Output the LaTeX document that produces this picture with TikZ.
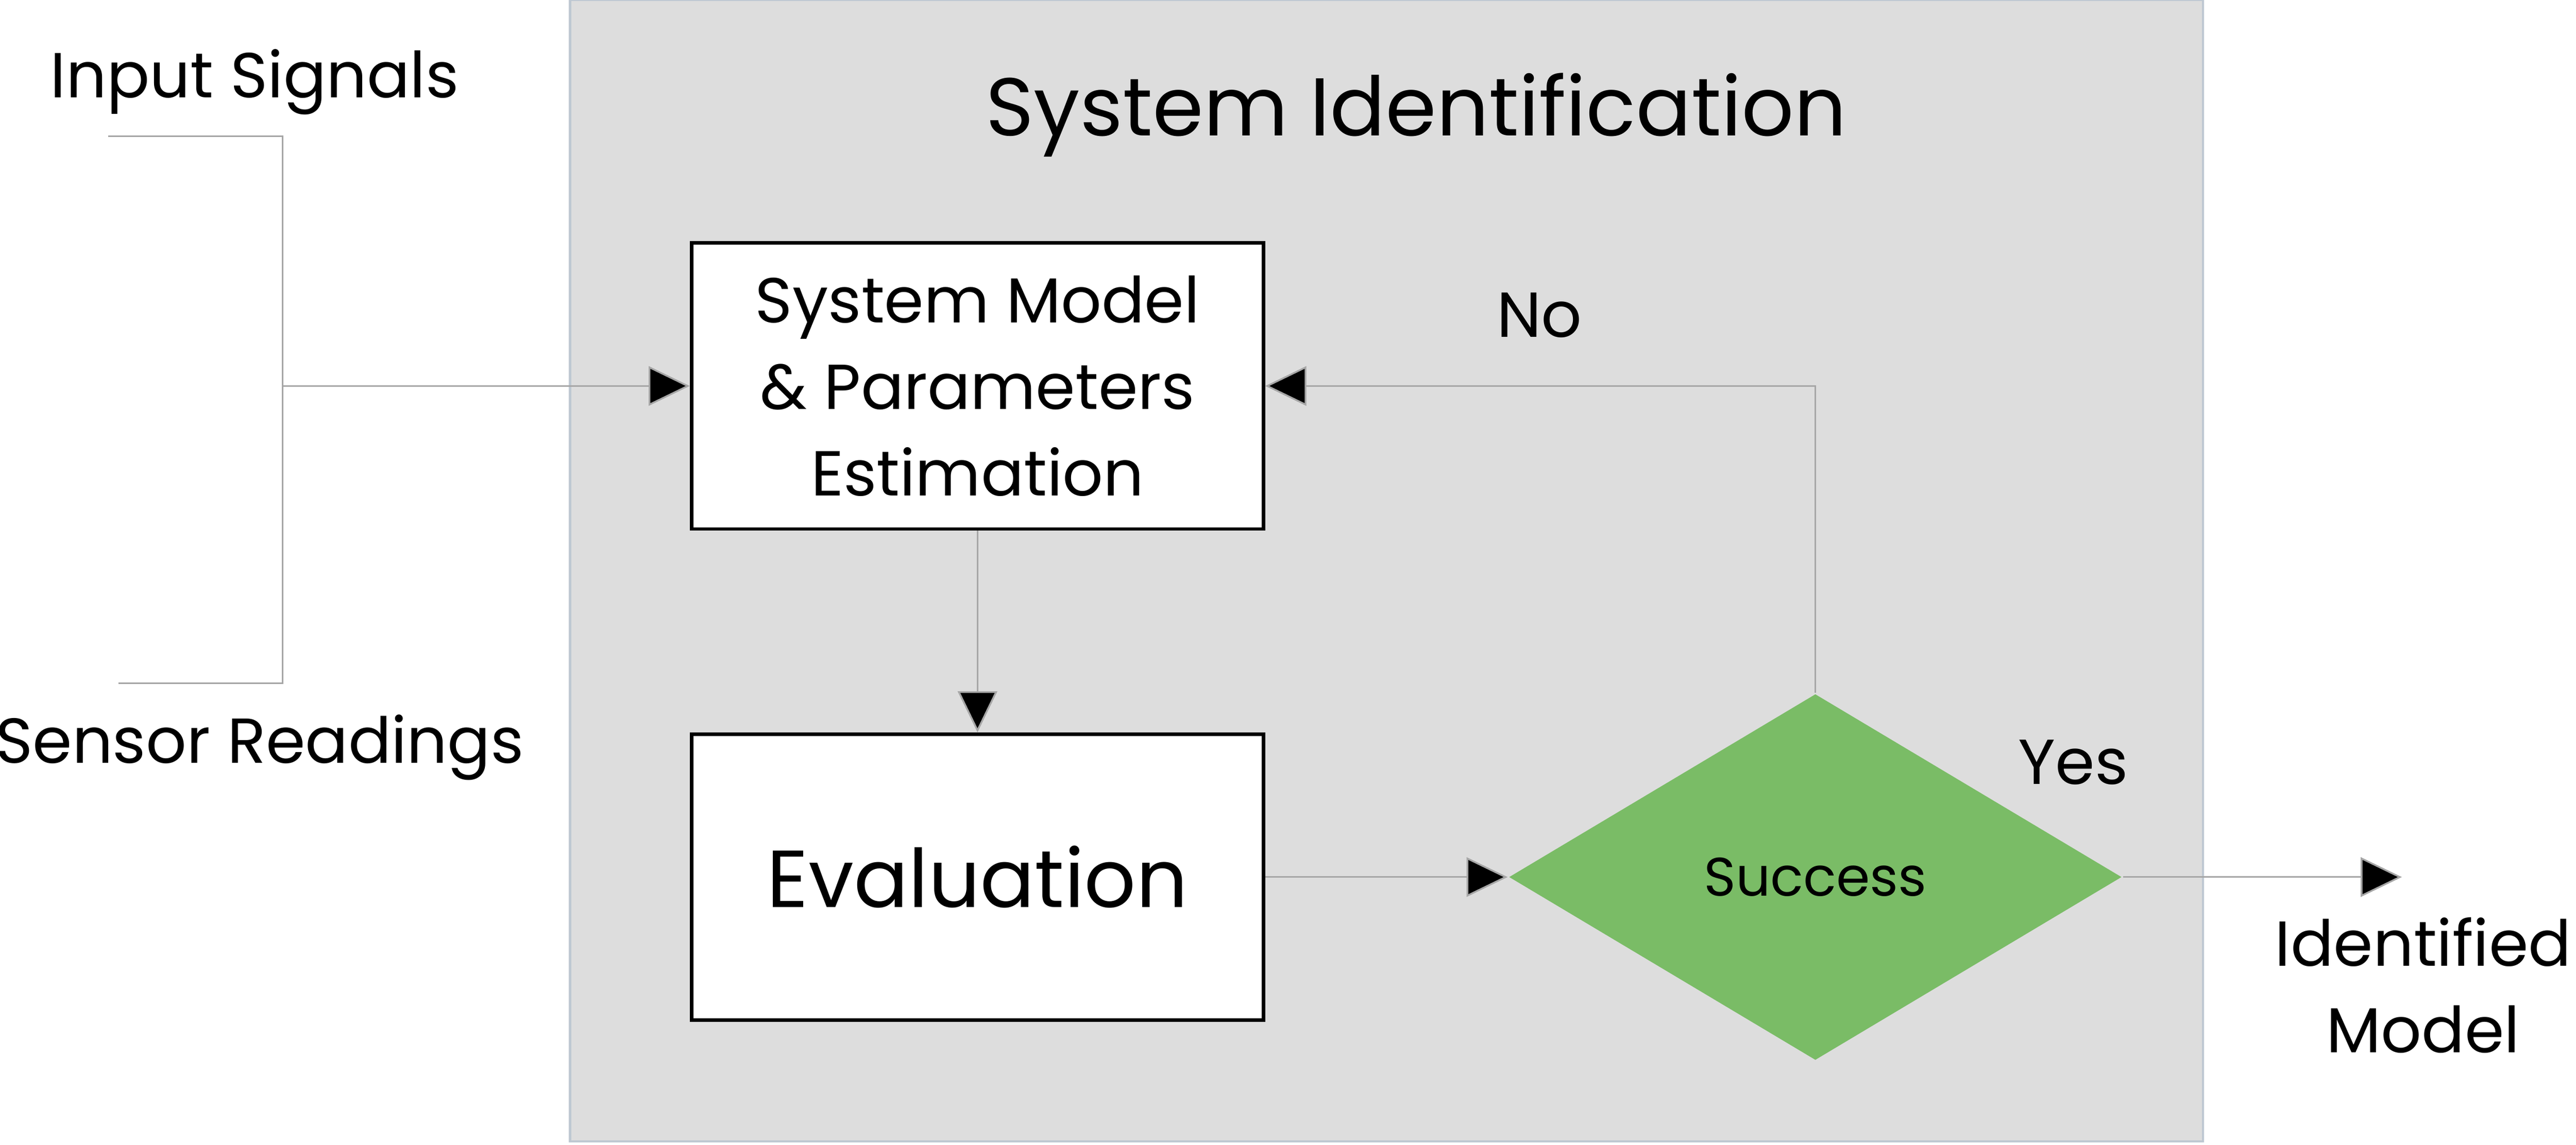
\documentclass[tikz,border=0pt]{standalone}
\usepackage{fontspec}
\setmainfont{Poppins}
\definecolor{mygray}{RGB}{221,221,221}
\definecolor{mygreen}{RGB}{122,188,102}
\definecolor{myedge}{RGB}{190,200,210}
\usetikzlibrary{arrows.meta,shapes.geometric,positioning}

\begin{document}
\begin{tikzpicture}[
  x=0.01cm, y=-0.01cm,
  myrect/.style={
    draw,
    semithick,
    fill=white,
    minimum width=3.48cm,
    minimum height=1.74cm,
    inner sep=1pt,
    align=center
  },
  mydiamond/.style={
    diamond,
    fill=mygreen,
    minimum width=3.73cm,
    minimum height=2.23cm,
    inner sep=0pt,
    font=\fontsize{9.4}{12}\selectfont
  },
  myline/.style={draw=gray!70, line width=0.3pt},
  myarrow/.style={myline, -{Triangle[length=0.25cm,width=0.24cm,fill=black]}},
  mylabel/.style={font=\fontsize{11}{15}\selectfont, align=center}
]
\useasboundingbox (0,0) rectangle (1568,697);
\fill [mygray, draw=myedge] (347,0) rectangle (1341,695);

\node [font=\fontsize{14.2}{17}\selectfont] (title) at (862,70) {System Identification};
\node [myrect, font=\fontsize{11}{15}\selectfont] (model) at (595,235)
  {System Model\\ \& Parameters\\ Estimation};
\node [myrect, font=\fontsize{14}{17}\selectfont] (eval) at (595,534) {Evaluation};
\node [mydiamond] (success) at (1105,534) {Success};

\node [mylabel] (input) at (155,50) {Input Signals};
\node [mylabel] (sensor) at (158,455) {Sensor Readings};
\node [mylabel] (no) at (937,192) {No};
\node [mylabel] (yes) at (1262,464) {Yes};
\node [mylabel] (result) at (1475,600) {Identified\\Model};

\coordinate (in1) at (66,83);
\coordinate (in2) at (72,416);
\coordinate (join) at (172,235);
\coordinate (out) at (1462,534);

\draw [myline] (in1) -| (join) |- (in2);
\draw [myarrow] (join) -- (model.west);
\draw [myarrow] (model) -- (eval);
\draw [myarrow] (eval) -- (success);
\draw [myarrow] (success.north) |- (model.east);
\draw [myarrow] (success.east) -- (out);

\end{tikzpicture}
\end{document}
